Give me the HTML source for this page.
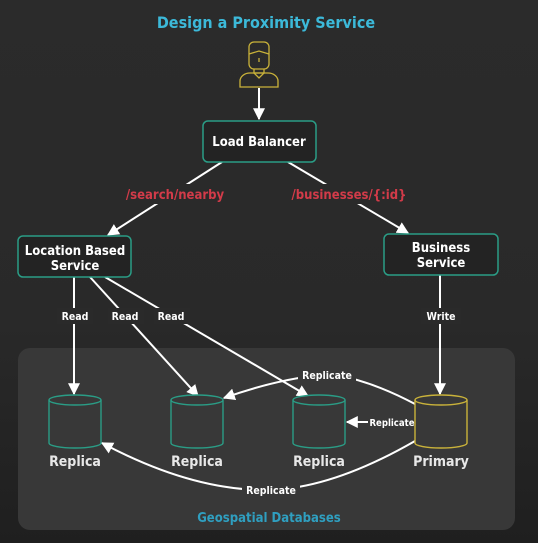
<!DOCTYPE html>
<html><head><style>
body{margin:0;background:#262626;}
svg{display:block;font-family:"DejaVu Sans Condensed","Liberation Sans",sans-serif;}
</style></head><body>
<svg width="538" height="543" viewBox="0 0 538 543">
<defs>
<linearGradient id="bg" x1="0" y1="0" x2="0" y2="1">
<stop offset="0" stop-color="#2b2b2b"/><stop offset="0.6" stop-color="#292929"/><stop offset="1" stop-color="#1f1f1f"/>
</linearGradient>
<marker id="a" viewBox="0 0 10 10" refX="9" refY="5" markerWidth="6" markerHeight="6" orient="auto-start-reverse"><path d="M0,0L10,5L0,10z" fill="#fff"/></marker>
</defs>
<rect width="538" height="543" fill="url(#bg)"/>
<rect x="18" y="348" width="497" height="182" rx="12" fill="#383838"/>
<text x="266" y="28" text-anchor="middle" fill="#3cb9d9" font-size="16" font-weight="bold">Design a Proximity Service</text>
<g fill="none" stroke="#c9b23a" stroke-width="1.3">
<rect x="249" y="42" width="20" height="27" rx="5"/>
<path d="M249,54 L259,51 L269,54"/>
<path d="M259,58v4"/>
<path d="M254,69v4h10v-4"/>
<path d="M240,87v-6a10,8 0 0 1 10,-8h18a10,8 0 0 1 10,8v6z"/>
<path d="M254,73l5,5l5,-5"/>
</g>
<g stroke="#fff" stroke-width="2" fill="none">
<line x1="259" y1="88" x2="259" y2="119" marker-end="url(#a)"/>
<line x1="222" y1="162" x2="108" y2="235" marker-end="url(#a)"/>
<line x1="288" y1="162" x2="408" y2="233" marker-end="url(#a)"/>
<line x1="74" y1="277" x2="74" y2="394" marker-end="url(#a)"/>
<line x1="90" y1="277" x2="198" y2="396" marker-end="url(#a)"/>
<line x1="105" y1="277" x2="308" y2="396" marker-end="url(#a)"/>
<line x1="440" y1="275" x2="440" y2="394" marker-end="url(#a)"/>
<path d="M415,404 Q370,380 330,374 Q280,378 224,398" marker-end="url(#a)"/>
<line x1="415" y1="422" x2="347" y2="422" marker-end="url(#a)"/>
<path d="M415,441 Q330,490 265,490 Q190,490 102,443" marker-end="url(#a)"/>
</g>
<rect x="126" y="184" width="100" height="20" fill="#2a2a2a"/>
<rect x="288" y="184" width="122" height="20" fill="#2a2a2a"/>
<rect x="57" y="308" width="36" height="16" fill="#2a2a2a"/>
<rect x="108" y="308" width="36" height="16" fill="#2a2a2a"/>
<rect x="154" y="308" width="36" height="16" fill="#2a2a2a"/>
<rect x="421" y="308" width="40" height="16" fill="#2a2a2a"/>
<rect x="298" y="367" width="58" height="15" fill="#383838"/>
<rect x="368" y="415" width="48" height="14" fill="#383838"/>
<rect x="242" y="482" width="58" height="15" fill="#383838"/>
<g fill="#232323" stroke="#2a9d86" stroke-width="1.5">
<rect x="203" y="121" width="113" height="41" rx="5"/>
<rect x="18" y="236" width="113" height="41" rx="5"/>
<rect x="384" y="234" width="114" height="41" rx="5"/>
</g>
<g fill="#fff" font-size="13" text-anchor="middle" font-weight="bold">
<text x="259" y="146">Load Balancer</text>
<text x="75" y="255">Location Based</text><text x="75" y="270">Service</text>
<text x="441" y="252">Business</text><text x="441" y="267">Service</text>
</g>
<g fill="#d23b49" font-size="13" text-anchor="middle" font-weight="bold">
<text x="175" y="199">/search/nearby</text>
<text x="349" y="199">/businesses/{:id}</text>
</g>
<g fill="#fff" font-size="10.5" text-anchor="middle" font-weight="bold">
<text x="75" y="320">Read</text><text x="125" y="320">Read</text><text x="171" y="320">Read</text>
<text x="441" y="320">Write</text>
<text x="327" y="379">Replicate</text>
<text x="271" y="494">Replicate</text>
<text x="392" y="426" font-size="9.5">Replicate</text>
</g>
<g fill="#383838" stroke-width="1.4">
<g stroke="#2a9d86">
<path d="M49,400v43a26,5 0 0 0 52,0v-43"/><ellipse cx="75" cy="400" rx="26" ry="5"/>
<path d="M171,400v43a26,5 0 0 0 52,0v-43"/><ellipse cx="197" cy="400" rx="26" ry="5"/>
<path d="M293,400v43a26,5 0 0 0 52,0v-43"/><ellipse cx="319" cy="400" rx="26" ry="5"/>
</g>
<g stroke="#c9b23a">
<path d="M415,400v43a26,5 0 0 0 52,0v-43"/><ellipse cx="441" cy="400" rx="26" ry="5"/>
</g>
</g>
<g fill="#e8e8e8" font-size="14" text-anchor="middle" font-weight="bold">
<text x="75" y="466">Replica</text><text x="197" y="466">Replica</text><text x="319" y="466">Replica</text><text x="441" y="466">Primary</text>
</g>
<text x="269" y="522" text-anchor="middle" fill="#2f9fc0" font-size="13" font-weight="bold">Geospatial Databases</text>
</svg>
</body></html>
